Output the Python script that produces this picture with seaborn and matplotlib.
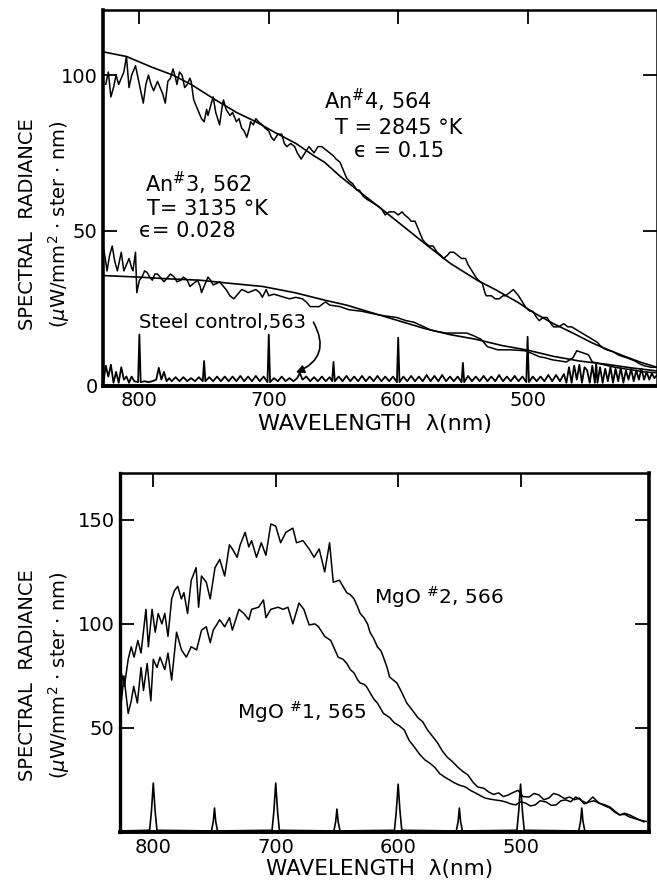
import matplotlib
matplotlib.use("Agg")
import matplotlib.pyplot as plt
import seaborn as sns

sns.set_style("white")
plt.rcParams['font.family'] = ['DejaVu Sans']
plt.rcParams['mathtext.fontset'] = 'dejavusans'
for key in ["text.color", "axes.labelcolor", "xtick.color", "ytick.color", "axes.edgecolor"]:
    plt.rcParams[key] = "black"

# ---- top panel: anodised samples (wavelength nm, radiance) ----
an4_trace = [(826, 97), (824, 101), (822, 93), (820, 96), (818, 100), (816, 97), (815, 98), (812, 101),
             (810, 106), (808, 96), (806, 100), (803, 103), (801, 99), (799, 95), (797, 91), (795, 97),
             (793, 100), (791, 97), (789, 95), (786, 98), (784, 96), (782, 94), (780, 91), (778, 98),
             (776, 99), (774, 102), (772, 99), (771, 97), (769, 101), (767, 100), (765, 96), (763, 97),
             (761, 99), (760, 98), (758, 92), (756, 90), (754, 88), (752, 86), (750, 85), (748, 89),
             (747, 87), (745, 90), (743, 93), (741, 88), (738, 84), (736, 90), (735, 92), (733, 89),
             (730, 87), (728, 88), (725, 85), (723, 86), (721, 83), (719, 82), (717, 80), (715, 83),
             (714, 85), (712, 84), (710, 86), (708, 85), (705, 84), (703, 83), (700, 82), (698, 80),
             (696, 79), (693, 81), (690, 81), (688, 78), (686, 77), (683, 78), (680, 77), (678, 75),
             (675, 73), (672, 75), (669, 77), (667, 76), (665, 75), (662, 77), (659, 77), (656, 76),
             (653, 75), (650, 74), (648, 73), (645, 72), (642, 69), (640, 67), (638, 66), (635, 65),
             (632, 63), (630, 63), (627, 61), (624, 60), (620, 59), (616, 58), (613, 57), (610, 55),
             (607, 56), (603, 56), (600, 55), (597, 56), (595, 55), (592, 54), (590, 53), (587, 53),
             (585, 51), (583, 49), (581, 47), (579, 46), (576, 45), (573, 45), (570, 43), (567, 42),
             (565, 41), (562, 42), (560, 43), (557, 43), (554, 42), (551, 41), (548, 41), (546, 39),
             (543, 37), (540, 35), (538, 34), (535, 33), (533, 30), (532, 29), (528, 29), (525, 28),
             (522, 28), (519, 29), (517, 29), (514, 30), (511, 31), (509, 30), (507, 29), (504, 27),
             (501, 25), (498, 24), (496, 24), (493, 22), (491, 21), (488, 22), (485, 22), (482, 20),
             (480, 19), (476, 19), (472, 20), (469, 19), (466, 19), (462, 18), (458, 17), (454, 16),
             (450, 15), (446, 14), (444, 13), (441, 12), (438, 11.5), (434, 11), (430, 10), (427, 9.5),
             (423, 9), (420, 8.5), (417, 8), (413, 7), (410, 6.5), (405, 6), (400, 6)]

an4_fit = [(828, 107.5), (810, 106), (790, 102.5), (774, 100), (760, 97), (741, 92), (725, 88),
           (710, 85), (695, 81.5), (679, 78), (665, 74), (657, 72), (645, 67.5), (630, 62.5),
           (610, 56), (595, 51), (577, 45), (560, 39.5), (539, 34), (525, 31), (508, 27),
           (495, 23.5), (480, 20), (465, 17), (451, 14), (440, 12), (425, 9.5), (412, 7.5), (400, 6)]

an3_trace = [(828, 45), (826, 40), (825, 37), (823, 42), (821, 45), (819, 40), (817, 37), (815, 41),
             (814, 43), (812, 37), (810, 39), (808, 41), (806, 38), (805, 37), (804, 40), (803, 43),
             (802, 30), (800, 34), (798, 35), (796, 37), (794, 36.5), (792, 35), (790, 34), (788, 36),
             (786, 36), (784, 35), (781, 33.5), (778, 35), (776, 36), (773, 35), (771, 33.5), (768, 34),
             (766, 35), (763, 34), (761, 32), (758, 33), (755, 34), (753, 32), (752, 30), (750, 32),
             (747, 35), (745, 34), (743, 32.5), (740, 33), (738, 33.5), (735, 32), (733, 31), (730, 29),
             (727, 28), (724, 29.5), (721, 31), (718, 30.5), (716, 30), (713, 30.5), (710, 31), (707, 30),
             (705, 28.5), (702, 31), (700, 29), (696, 29.5), (692, 29), (688, 28.5), (684, 28), (679, 28.5),
             (674, 28), (671, 27), (668, 25.5), (664, 25.5), (661, 25.5), (658, 26.5), (656, 27), (653, 26),
             (645, 25.5), (638, 24.5), (628, 24), (617, 23), (610, 22.5), (601, 22), (594, 21), (588, 20.5),
             (580, 19), (575, 18), (570, 17.5), (563, 17), (557, 17), (552, 17), (547, 17), (541, 16),
             (536, 15), (531, 12.6), (523, 11.6), (513, 11.6), (502, 11.3), (497, 10.5), (491, 9.4),
             (486, 9), (481, 8.4), (475, 8), (470, 7.7), (465, 9), (462, 11.3), (457, 10.6), (453, 10),
             (450, 7.7), (445, 7.2), (441, 6.8), (434, 6.1), (427, 5.6), (420, 5.2), (410, 4.5), (400, 4.2)]

an3_fit = [(828, 35.5), (800, 35), (780, 34.5), (753, 34), (730, 33), (705, 32), (680, 30),
           (656, 27.5), (640, 26), (620, 23.5), (600, 21), (580, 18.5), (560, 16.5), (540, 15),
           (520, 13), (500, 11.5), (480, 9.5), (460, 8), (440, 7), (420, 5.8), (400, 4.8)]

steel_trace = [(828, 0.5), (826, 6.5), (824, 3), (822, 6.8), (820, 1), (818, 4.5), (816, 1), (814, 6),
               (812, 2), (810, 3), (808, 1), (806, 3), (804, 1.5), (801, 1.2), (800, 16.5), (799, 1.2),
               (796, 1.5), (793, 1.2), (790, 1.5), (787, 2), (785, 5.8), (783, 2), (781, 4.5), (779, 1.5),
               (777, 2.5), (775, 1.5), (772, 2.8), (769, 1.5), (766, 2.8), (763, 1.5), (760, 2.5),
               (757, 1.5), (754, 2.8), (751, 1.5), (750, 8), (749, 1.5), (746, 2.8), (743, 1.5), (740, 3),
               (737, 1.5), (734, 3), (731, 1.5), (728, 3), (725, 1.5), (722, 3.2), (719, 1.5), (716, 3),
               (713, 1.5), (710, 3.2), (707, 1.5), (704, 3), (701, 1.2), (700, 16.5), (699, 1.2),
               (696, 2.5), (693, 1.5), (690, 3), (687, 1.5), (684, 2.5), (681, 1.5), (678, 2.5), (676, 4.2),
               (674, 2), (671, 3), (668, 1.5), (665, 2.8), (662, 1.5), (659, 3), (656, 1.5), (653, 2.8),
               (651, 1.5), (650, 7.7), (649, 1.5), (646, 3), (643, 1.5), (640, 3.2), (637, 1.5), (634, 3),
               (631, 1.5), (628, 3.2), (625, 1.5), (622, 3), (619, 1.5), (616, 3.2), (613, 1.5), (610, 3),
               (607, 1.5), (604, 3), (601, 1.2), (600, 15.5), (599, 1.2), (596, 3), (593, 1.5), (590, 3.2),
               (587, 1.5), (584, 3), (581, 1.5), (578, 3.5), (575, 1.5), (572, 3.2), (569, 1.5), (566, 3.5),
               (563, 1.5), (560, 3), (557, 1.5), (554, 3), (551, 1.2), (550, 7.4), (549, 1.2), (546, 3.2),
               (543, 1.5), (540, 3), (537, 1.5), (534, 3.2), (531, 1.5), (528, 3), (525, 1.5), (522, 3.5),
               (519, 1.5), (516, 3), (513, 1.5), (510, 3.2), (507, 1.5), (504, 3), (501, 1.2), (500, 15.8),
               (499, 1.2), (496, 3), (493, 1.5), (490, 3), (487, 1.5), (484, 3.5), (481, 1.5), (478, 3.5),
               (475, 1.5), (472, 3.8), (470, 1), (468, 6), (466, 1), (464, 6.5), (462, 2), (460, 6.8),
               (458, 1), (456, 6), (454, 5), (452, 1), (450, 6.5), (448, 1), (447, 7.4), (446, 1), (444, 6),
               (442, 1), (440, 5.5), (438, 1.5), (436, 6), (434, 1), (432, 5.5), (430, 1.5), (428, 5.8),
               (426, 1), (424, 5), (422, 2), (420, 5.5), (418, 1.5), (416, 5), (414, 2), (412, 5.5),
               (410, 2), (408, 4.5), (406, 2), (404, 4), (402, 2.5), (400, 3.5)]

# ---- bottom panel: MgO samples ----
mgo2_trace = [(826, 76), (823.6, 70), (820.5, 83), (818, 89), (815.7, 84), (812.6, 92), (810, 86),
              (806, 107), (804, 89), (801, 107), (798.4, 96), (796, 105), (793, 100), (790.6, 105),
              (788, 94), (785, 112), (782.7, 116), (780, 118), (777, 112), (775, 115), (772, 105),
              (769, 121), (765, 127), (763, 108), (760.6, 123), (756.7, 120), (753.5, 112), (749.6, 127),
              (745.7, 131), (741.7, 123), (737.8, 138), (735.4, 136), (731.5, 132), (729, 138), (725, 144),
              (722, 137), (719.7, 140), (715.7, 132), (711.8, 139), (708, 133), (704, 148), (700, 147),
              (696, 139), (691.7, 144), (686, 146), (683, 139), (677.7, 140), (672.7, 136), (668.6, 132),
              (664.5, 136), (660, 125), (656, 139), (653, 120), (648, 121), (645, 118), (642, 115),
              (639, 114), (636, 112), (633, 108), (631, 105), (628, 103), (625, 100), (623, 96), (620, 93),
              (617, 89), (614, 87), (612, 84), (609, 79), (607, 74.5), (604, 73), (601, 71.6), (597, 67),
              (593, 62), (589, 59), (584, 55), (580, 53), (576, 49), (572, 46), (568, 43), (564, 39),
              (560, 36), (556, 34), (551, 31), (547, 29), (543, 27.4), (539, 24), (535, 21.6), (530, 21),
              (526, 19.2), (522, 18), (518, 18.8), (514, 17), (510, 17.8), (506, 19), (502, 20), (498, 17),
              (493, 16.8), (489, 18.5), (485, 17.8), (481, 15.5), (477, 16.3), (473, 18.5), (469, 17.8),
              (464, 16), (460, 16.8), (456, 15.5), (452, 16.3), (448, 13.5), (444, 14.4), (440, 15),
              (436, 13.9), (431, 12.5), (427, 11.5), (423, 9.5), (419, 8.2), (415, 9), (411, 8.2),
              (407, 7), (403, 5.8), (397, 5)]

mgo1_trace = [(826, 63), (824, 75), (820.5, 57), (818, 63), (816, 70), (813, 62), (810, 79), (808, 68),
              (805, 81), (802, 63), (800, 83), (797, 79), (794.5, 84), (790.6, 78), (788, 86), (785, 73),
              (781, 96), (777, 87.5), (773, 84), (769, 89), (764.6, 87.5), (760.6, 97), (756.7, 98.6),
              (753.5, 91), (751, 97), (745.7, 102), (741.7, 98.6), (737.8, 103), (735.4, 97), (730, 107),
              (726, 105), (722, 102), (719.7, 107), (714, 108), (710, 111.5), (708, 103), (704, 107),
              (698, 108), (694, 107), (690, 108), (686, 100), (681, 110), (677, 107), (672.7, 99.5),
              (668, 100), (665, 98.6), (660, 94), (655, 92), (649, 84), (645, 83), (642, 81), (639, 78),
              (636, 76.4), (633, 73), (631, 71.6), (628, 71), (626, 70), (623, 67), (620, 64), (617, 62),
              (612, 57), (607, 55), (603, 52.4), (599, 51), (595, 49), (591, 44), (587, 41), (582, 37),
              (578, 34.6), (574, 33), (570, 31), (566, 28), (562, 26.4), (558, 25), (554, 23.6),
              (550, 22.5), (545, 21.6), (541, 20), (537, 18.8), (533, 17.5), (529, 16.3), (525, 15.8),
              (521, 15.4), (516, 15), (512, 14.4), (508, 13.5), (504, 13), (500, 14.5), (496, 13.9),
              (492, 12.5), (488, 13), (484, 15), (479, 14.4), (475, 12.8), (471, 13), (467, 15),
              (463, 15.4), (459, 14.5), (455, 16.8), (450, 15), (446, 13.9), (441, 16.8), (436, 13.9),
              (431, 13), (427, 12), (423, 10), (419, 8.2), (415, 8.5), (411, 7.2), (407, 6.5),
              (403, 5.8), (399, 4.8)]

lamp_trace = [(827, 0.5), (803, 0.8), (801.5, 10), (800, 23.5), (798.5, 10), (797, 0.8),
              (752.5, 0.5), (751, 5), (750, 11.5), (749, 5), (747.5, 0.5),
              (703, 0.8), (701.5, 10), (700, 23.5), (698.5, 10), (697, 0.8),
              (652.5, 0.5), (651, 5), (650, 11), (649, 5), (647.5, 0.5),
              (603, 0.8), (601.5, 10), (600, 23), (598.5, 10), (597, 0.8),
              (552.5, 0.5), (551, 5), (550, 11.5), (549, 5), (547.5, 0.5),
              (503, 0.8), (501.5, 10), (500, 23), (498.5, 10), (497, 0.8),
              (452.5, 0.5), (451, 5), (450, 11.5), (449, 5), (447.5, 0.5), (395, 0.5)]

wl_ticks = [800, 700, 600, 500]


def trace(ax, pairs, lw=1.1):
    nm = [p[0] for p in pairs]
    val = [p[1] for p in pairs]
    sns.lineplot(x=nm, y=val, ax=ax, color="black", linewidth=lw,
                 sort=False, estimator=None)


def frame(ax, yticks, widths):
    ax.set_xticks(wl_ticks)
    ax.set_yticks(yticks)
    ax.tick_params(axis="both", direction="in", length=10, width=1.3,
                   labelsize=14, top=True, right=True, bottom=True, left=True)
    ax.tick_params(axis="x", pad=4)
    ax.tick_params(axis="y", pad=4)
    for t in ax.xaxis.get_major_ticks():
        t.tick1line.set_visible(False)
    for side, w in widths.items():
        ax.spines[side].set_linewidth(w)
        ax.spines[side].set_color("black")


ylab = "SPECTRAL  RADIANCE\n($\\mu$W/mm$^2$ $\\cdot$ ster $\\cdot$ nm)"
xlab = "WAVELENGTH  λ(nm)"

fig = plt.figure(figsize=(6.57, 8.83), dpi=100)

# ---------------- top ----------------
ax1 = fig.add_axes([0.157, 0.563, 0.843, 0.4258])
trace(ax1, an4_fit, 1.2)
trace(ax1, an3_fit, 1.2)
trace(ax1, an4_trace)
trace(ax1, an3_trace)
trace(ax1, steel_trace, 1.3)
ax1.set_xlim(828, 400)
ax1.set_ylim(0, 121)
frame(ax1, [0, 50, 100], {"left": 2.6, "bottom": 2.8, "top": 1.8, "right": 1.8})
ax1.set_ylabel(ylab, fontsize=14, linespacing=1.45, va="center")
ax1.yaxis.set_label_coords(-0.105, 0.43)
ax1.set_xlabel(xlab, fontsize=16, va="center")
ax1.xaxis.set_label_coords(0.49, -0.101)

ax1.text(657, 92, "An$^{\\#}$4, 564", fontsize=15, va="center")
ax1.text(649, 83, "T = 2845 °K", fontsize=15, va="center")
ax1.text(634, 75.5, "ϵ = 0.15", fontsize=15, va="center")
ax1.text(795.5, 65, "An$^{\\#}$3, 562", fontsize=15, va="center")
ax1.text(794, 57, "T= 3135 °K", fontsize=15, va="center")
ax1.text(800.5, 50, "ϵ= 0.028", fontsize=15, va="center")
ax1.text(800.5, 20.3, "Steel control,563", fontsize=14, va="center")
ax1.annotate("", xy=(679, 4.3), xytext=(665.5, 20.5),
             arrowprops=dict(arrowstyle="-|>", color="black", lw=1.2,
                             mutation_scale=12, shrinkA=0, shrinkB=0,
                             connectionstyle="arc3,rad=-0.55"))

# ---------------- bottom ----------------
ax2 = fig.add_axes([0.183, 0.0578, 0.805, 0.4065])
trace(ax2, mgo2_trace)
trace(ax2, mgo1_trace)
trace(ax2, lamp_trace, 1.2)
ax2.set_xlim(827, 395)
ax2.set_ylim(0, 172.5)
frame(ax2, [50, 100, 150], {"left": 2.4, "bottom": 2.8, "top": 1.8, "right": 2.6})
ax2.set_ylabel(ylab, fontsize=14, linespacing=1.45, va="center")
ax2.yaxis.set_label_coords(-0.142, 0.437)
ax2.set_xlabel(xlab, fontsize=15.5, va="center")
ax2.xaxis.set_label_coords(0.49, -0.104)

ax2.text(620, 113, "MgO $^{\\#}$2, 566", fontsize=14.5, va="center")
ax2.text(731.5, 57.7, "MgO $^{\\#}$1, 565", fontsize=14.5, va="center")

fig.savefig("out.png", dpi=100)
